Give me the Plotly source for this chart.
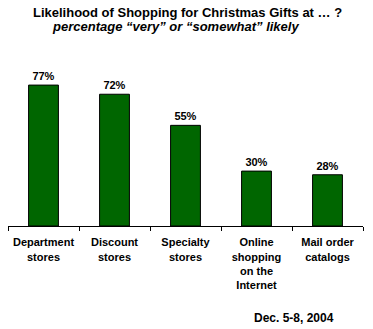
import plotly.graph_objects as go

categories = ["Department<br>stores", "Discount<br>stores", "Specialty<br>stores",
              "Online<br>shopping<br>on the<br>Internet", "Mail order<br>catalogs"]
values = [77, 72, 55, 30, 28]
title = "Likelihood of Shopping for Christmas Gifts at … ?"
subtitle = "percentage “very” or “somewhat” likely"
note = "Dec. 5-8, 2004"

FONT = "Arial, Liberation Sans, sans-serif"
W, H = 373, 329
ML, MR, MT, MB = 8, 10, 43, 103
pw, ph = W - ML - MR, H - MT - MB


def px_x(x):
    return (x - ML) / pw


def px_y(y):
    return (H - MB - y) / ph


fig = go.Figure(go.Bar(
    x=categories, y=values,
    marker=dict(color="#006600", line=dict(color="black", width=1)),
    texttemplate="<b>%{y}%</b>", textposition="outside",
    textfont=dict(family=FONT, size=11, color="black"),
    cliponaxis=False, width=0.42,
))

fig.update_layout(
    width=W, height=H,
    margin=dict(l=ML, r=MR, t=MT, b=MB),
    paper_bgcolor="white", plot_bgcolor="white",
    showlegend=False,
    xaxis=dict(
        type="category", tickson="boundaries", ticks="outside", ticklen=4,
        tickcolor="black", showline=True, linecolor="black", linewidth=1,
        showgrid=False, tickfont=dict(family=FONT, size=11, color="black", weight="bold"),
        tickangle=0, ticklabelstandoff=6,
    ),
    yaxis=dict(range=[0, 100], visible=False, showgrid=False),
    annotations=[
        dict(text="<b>" + title + "</b>", x=px_x(187), y=px_y(12), xref="paper", yref="paper",
             yanchor="middle", showarrow=False, font=dict(family=FONT, size=13, color="black")),
        dict(text="<b><i>" + subtitle + "</i></b>", x=px_x(175), y=px_y(27), xref="paper", yref="paper",
             yanchor="middle", showarrow=False, font=dict(family=FONT, size=13, color="black")),
        dict(text="<b>" + note + "</b>", x=px_x(336), y=px_y(318), xref="paper", yref="paper",
             xanchor="right", yanchor="middle", showarrow=False,
             font=dict(family=FONT, size=12, color="black")),
    ],
)

fig.write_html("out.html")
